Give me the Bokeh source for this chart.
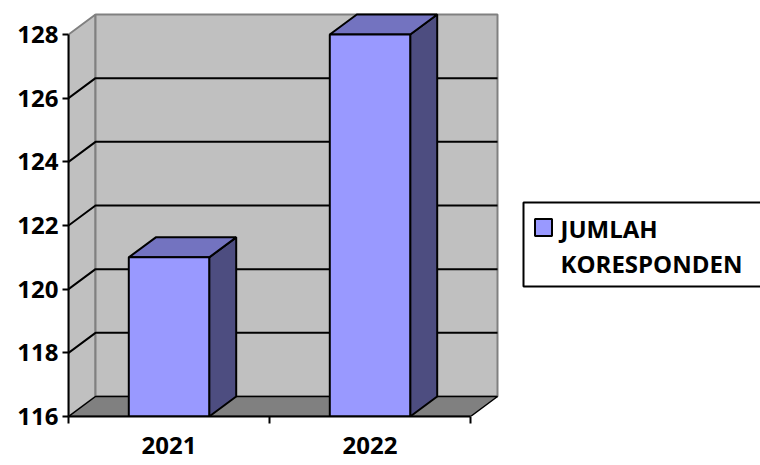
from bokeh.plotting import figure
from bokeh.models import Range1d, LinearAxis, FixedTicker
from bokeh.core.properties import value
from bokeh.embed import file_html
from bokeh.resources import INLINE

# ---- data ----
categories = ["2021", "2022"]
values = [121, 128]
series_name = ["JUMLAH", "KORESPONDEN"]
y_ticks = [116, 118, 120, 122, 124, 126, 128]
grid_values = [118, 120, 122, 124, 126]

# ---- geometry (pixels) ----
W, H = 760, 465
LEFT, BOTTOM = 68, 49
frame_w = W - LEFT
frame_h = H - BOTTOM
y0, y1 = 116, 128
py_per_unit = (416 - 34) / (y1 - y0)
px_per_cat = 201.0
x_end = frame_w / px_per_cat
y_end = y0 + frame_h / py_per_unit

DX = 27 / px_per_cat          # depth offset in x data units
DY = 20 / py_per_unit         # depth offset in y data units
BAR_W = 0.4

def px2x(px):
    return (px - LEFT) / px_per_cat

def py2y(py):
    return y0 + (frame_h - py) / py_per_unit

FONT_NAME = "Open Sans"
FONT = value(FONT_NAME)
FSIZE = "24px"

p = figure(width=W, height=H, output_backend="svg", toolbar_location=None,
           x_range=Range1d(0, x_end), y_range=Range1d(y0, y_end),
           x_axis_type=None, y_axis_type=None)
p.min_border = 0
p.min_border_left = LEFT
p.min_border_bottom = BOTTOM
p.min_border_top = 0
p.min_border_right = 0
p.outline_line_color = None
p.xgrid.visible = False
p.ygrid.visible = False
p.background_fill_color = "white"
p.border_fill_color = "white"

n = len(categories)
WALL = "#C0C0C0"
WALL_EDGE = "#808080"
FLOOR = "#808080"

# side wall
p.patch([0, 0, DX, DX], [y0, y1, y1 + DY, y0 + DY], fill_color=WALL,
        line_color=WALL_EDGE, line_width=2)
# back wall
p.patch([DX, DX, n + DX, n + DX], [y0 + DY, y1 + DY, y1 + DY, y0 + DY],
        fill_color=WALL, line_color=WALL_EDGE, line_width=2)
# floor
p.patch([0, n, n + DX, DX], [y0, y0, y0 + DY, y0 + DY], fill_color=FLOOR,
        line_color="black", line_width=1.5)

# gridlines (side diagonal + back)
gx = []
gy = []
for g in grid_values:
    gx.append([0, DX, n + DX])
    gy.append([g, g + DY, g + DY])
p.multi_line(gx, gy, line_color="black", line_width=2)

# bars
FRONT = "#9999FF"
TOP = "#7373C0"
SIDE = "#4D4D80"
for i, v in enumerate(values):
    c = i + 0.5
    l, r = c - BAR_W / 2, c + BAR_W / 2
    p.patch([r, r + DX, r + DX, r], [y0, y0 + DY, v + DY, v],
            fill_color=SIDE, line_color="black", line_width=2)
    p.patch([l, r, r + DX, l + DX], [v, v, v + DY, v + DY],
            fill_color=TOP, line_color="black", line_width=2)
    p.quad(left=l, right=r, bottom=y0, top=v, fill_color=FRONT,
           line_color="black", line_width=2)

# axes
yax = LinearAxis(ticker=FixedTicker(ticks=y_ticks), bounds=(y0, y1))
yax.axis_line_color = "black"
yax.axis_line_width = 2
yax.major_tick_line_width = 2
yax.major_tick_out = 6
yax.major_tick_in = 0
yax.minor_tick_line_color = None
yax.major_label_standoff = 4
yax.major_label_text_font = FONT_NAME
yax.major_label_text_font_style = "bold"
yax.major_label_text_font_size = FSIZE
yax.major_label_text_color = "black"
p.add_layout(yax, "left")

centers = [i + 0.5 for i in range(n)]
xax = LinearAxis(ticker=FixedTicker(ticks=centers, minor_ticks=list(range(n + 1))),
                 bounds=(0, n))
xax.major_label_overrides = {c: lab for c, lab in zip(centers, categories)}
xax.axis_line_color = "black"
xax.axis_line_width = 2
xax.major_tick_line_color = None
xax.minor_tick_line_color = "black"
xax.minor_tick_line_width = 2
xax.minor_tick_out = 7
xax.minor_tick_in = 0
xax.major_label_standoff = 13
xax.major_label_text_font = FONT_NAME
xax.major_label_text_font_style = "bold"
xax.major_label_text_font_size = FSIZE
xax.major_label_text_color = "black"
p.add_layout(xax, "below")

# legend (drawn manually)
p.patch([px2x(523), px2x(523), px2x(770), px2x(770)],
        [py2y(286), py2y(202), py2y(202), py2y(286)],
        fill_color="white", line_color="black", line_width=2)
p.rect(x=[px2x(543)], y=[py2y(227)], width=17, height=17,
       width_units="screen", height_units="screen",
       fill_color=FRONT, line_color="black", line_width=2)
p.text(x=[px2x(560), px2x(560)], y=[py2y(228), py2y(263)], text=series_name,
       text_font=FONT, text_font_style="bold", text_font_size=FSIZE,
       text_baseline="middle", text_align="left", text_color="black")

open("out.html", "w").write(file_html(p, INLINE))
